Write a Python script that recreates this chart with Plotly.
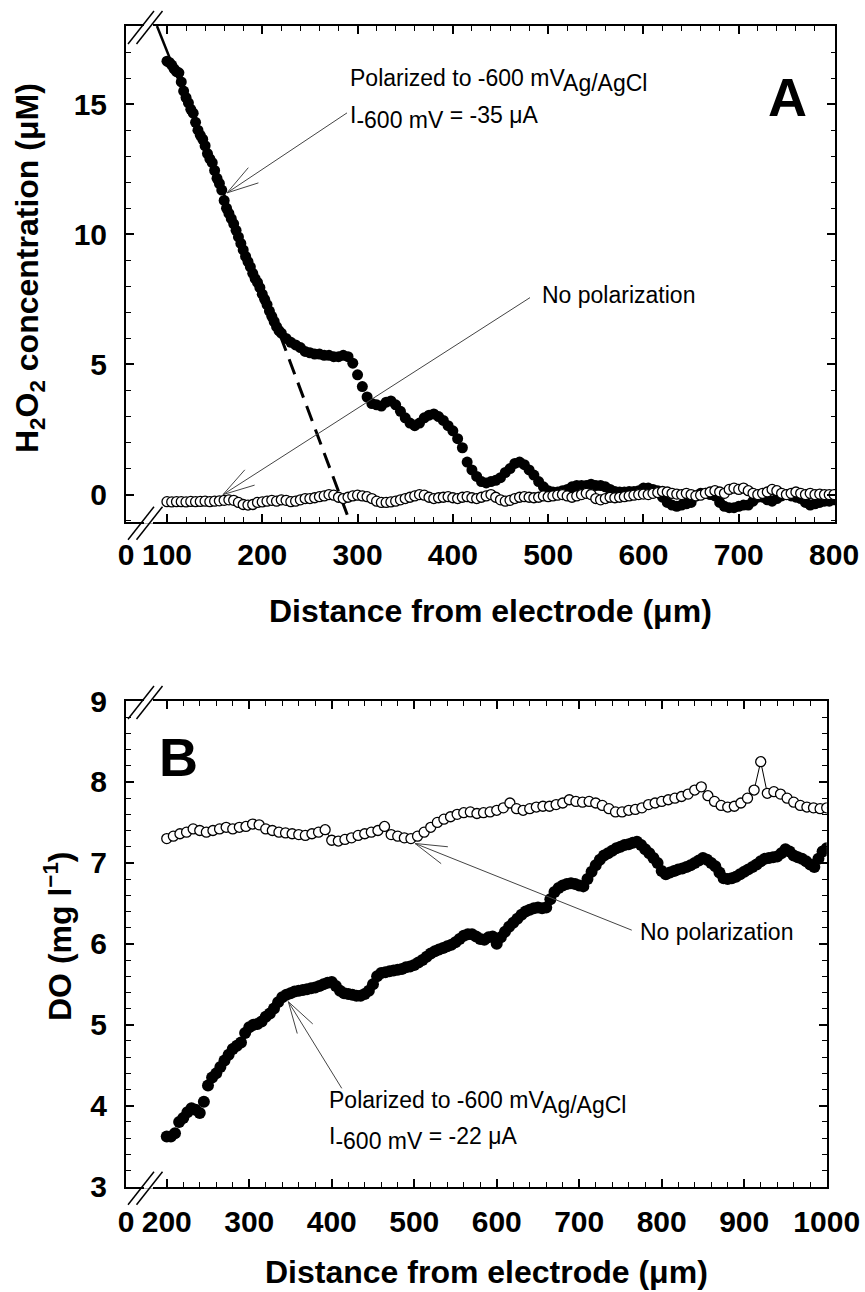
import math
import plotly.graph_objects as go

FONT = "Liberation Sans, Arial, sans-serif"
W, H = 865, 1292
ANN = 23          # annotation text size
BOLD = 30         # tick labels
TITLE = 32        # axis titles
ARROW_COLOR = "#444444"

# ---- panel A : H2O2 profile ----
# steep part, every 2.5 um from 100 um
a_steep_x0, a_steep_dx = 100, 2.5
a_steep = [
    16.65, 16.6, 16.5, 16.35, 16.25, 16.2, 15.85, 15.5, 15.25, 15.05,
    14.8, 14.65, 14.3, 14.0, 13.8, 13.65, 13.4, 13.1, 12.9, 12.75,
    12.45, 12.15, 11.95, 11.7, 11.3, 11.0, 10.8, 10.6, 10.4, 10.15,
    9.9, 9.65, 9.4, 9.15, 8.95, 8.75, 8.5, 8.3, 8.15, 7.95,
    7.7, 7.5, 7.3, 7.05, 6.85, 6.65, 6.45, 6.3, 6.2,
]
# rest of the polarized profile, every 5 um from 225 um
a_tail_x0, a_tail_dx = 225, 5
a_tail = [
    6.0, 5.85, 5.75, 5.65, 5.5,
    5.45, 5.4, 5.4, 5.35, 5.35, 5.3, 5.3, 5.35, 5.3, 5.05,
    4.6, 4.15, 3.75, 3.5, 3.45, 3.4, 3.55, 3.6, 3.45, 3.2,
    2.95, 2.75, 2.65, 2.75, 2.95, 3.05, 3.1, 3.0, 2.85, 2.65,
    2.45, 2.15, 1.8, 1.25, 0.95, 0.7, 0.5, 0.45, 0.5, 0.55,
    0.65, 0.85, 1.0, 1.2, 1.25, 1.15, 0.95, 0.75, 0.5, 0.3,
    0.15, 0.1, 0.1, 0.15, 0.2, 0.3, 0.35, 0.35, 0.35, 0.4,
    0.35, 0.35, 0.3, 0.2, 0.12, 0.1, 0.1, 0.12, 0.12, 0.15,
    0.25, 0.25, 0.2, 0.15, -0.1, -0.3, -0.4, -0.45, -0.4, -0.35,
    -0.3, -0.05, 0.05, 0.05, 0.0, -0.05, -0.3, -0.45, -0.5, -0.5,
    -0.45, -0.4, -0.4, -0.25, -0.1, -0.1, -0.2, -0.25, -0.15, -0.05,
    0.0, -0.05, -0.1, -0.15, -0.3, -0.4, -0.35, -0.3, -0.25, -0.25,
    -0.2,
]
# no polarization, every 5 um from 100 um
a_nopol_x0, a_nopol_dx = 100, 5
a_nopol = [
    -0.27, -0.28, -0.27, -0.27, -0.28, -0.26, -0.27, -0.26, -0.25, -0.27,
    -0.25, -0.24, -0.22, -0.2, -0.22, -0.3, -0.38, -0.4, -0.38, -0.3,
    -0.28, -0.25, -0.22, -0.25, -0.2, -0.22, -0.27, -0.25, -0.2, -0.15,
    -0.15, -0.12, -0.08, -0.05, 0.0, -0.02, -0.1, -0.15, -0.1, -0.05,
    -0.02, -0.05, -0.08, -0.15, -0.25, -0.3, -0.3, -0.28, -0.25, -0.2,
    -0.15, -0.1, -0.05, 0.0, -0.02, -0.1, -0.15, -0.12, -0.1, -0.08,
    -0.12, -0.15, -0.1, -0.08, -0.12, -0.15, -0.1, -0.05, 0.0, -0.1,
    -0.2, -0.25, -0.22, -0.15, -0.1, -0.08, -0.1, -0.12, -0.1, -0.05,
    -0.08, -0.05, -0.02, 0.0, -0.05, -0.1, -0.05, 0.0, 0.05, 0.0,
    -0.15, -0.2, -0.15, -0.1, -0.12, -0.1, -0.08, -0.05, -0.02, 0.0,
    0.02, 0.0, 0.05, 0.08, 0.12, 0.1, 0.05, 0.02, 0.0, 0.05,
    0.0, -0.05, -0.02, 0.05, 0.1, 0.15, 0.1, 0.05, 0.2, 0.25,
    0.2, 0.25, 0.15, 0.05, 0.0, 0.05, 0.1, 0.2, 0.15, 0.05,
    0.0, 0.05, 0.1, 0.05, 0.0, 0.05, 0.0, 0.02, 0.0, 0.0,
    0.0,
]
# linear fit of the steep part, solid then extrapolated (dashed)
a_fit_x = [89.5, 219]
a_fit_y = [18.0, 6.1]
a_ext_x = [219, 292]
a_ext_y = [6.1, -1.05]

# ---- panel B : dissolved oxygen ----
# polarized, every 5 um from 200 um
b_pol_x0, b_pol_dx = 200, 5
b_polarized = [
    3.62, 3.62, 3.66, 3.80, 3.85, 3.92, 3.97, 3.95, 3.91, 4.05,
    4.25, 4.35, 4.40, 4.48, 4.56, 4.63, 4.70, 4.74, 4.78, 4.90,
    4.97, 5.00, 5.01, 5.04, 5.10, 5.14, 5.20, 5.28, 5.34, 5.37,
    5.39, 5.41, 5.42, 5.43, 5.44, 5.45, 5.46, 5.48, 5.50, 5.52,
    5.53, 5.48, 5.42, 5.39, 5.38, 5.37, 5.36, 5.36, 5.38, 5.42,
    5.50, 5.60, 5.64, 5.65, 5.66, 5.67, 5.68, 5.69, 5.71, 5.72,
    5.74, 5.77, 5.80, 5.84, 5.88, 5.91, 5.93, 5.95, 5.97, 5.99,
    6.02, 6.06, 6.10, 6.12, 6.12, 6.09, 6.06, 6.05, 6.08, 6.09,
    6.00, 6.08, 6.15, 6.21, 6.26, 6.31, 6.36, 6.40, 6.42, 6.44,
    6.45, 6.44, 6.45, 6.55, 6.64, 6.69, 6.72, 6.74, 6.75, 6.74,
    6.72, 6.71, 6.80, 6.89, 6.97, 7.04, 7.09, 7.12, 7.15, 7.18,
    7.20, 7.22, 7.23, 7.25, 7.26, 7.22, 7.17, 7.12, 7.06, 7.00,
    6.90, 6.86, 6.88, 6.90, 6.92, 6.93, 6.95, 6.97, 7.00, 7.03,
    7.06, 7.04, 7.00, 6.96, 6.88, 6.81, 6.80, 6.81, 6.83, 6.86,
    6.89, 6.92, 6.95, 6.98, 7.02, 7.05, 7.06, 7.07, 7.08, 7.12,
    7.17, 7.14, 7.09, 7.07, 7.05, 7.02, 6.98, 6.95, 7.05, 7.14,
    7.18,
]
# no polarization, every 8 um from 200 um
b_nopol_x0, b_nopol_dx = 200, 8
b_nopol = [
    7.30, 7.33, 7.36, 7.38, 7.42, 7.40, 7.38, 7.40, 7.42, 7.44,
    7.42, 7.44, 7.45, 7.48, 7.47, 7.42, 7.40, 7.38, 7.37, 7.36,
    7.35, 7.34, 7.36, 7.38, 7.41, 7.28, 7.27, 7.29, 7.31, 7.34,
    7.36, 7.38, 7.40, 7.45, 7.35, 7.33, 7.31, 7.30, 7.33, 7.38,
    7.44, 7.50, 7.54, 7.57, 7.60, 7.62, 7.63, 7.61, 7.62, 7.63,
    7.65, 7.68, 7.74, 7.67, 7.65, 7.67, 7.69, 7.70, 7.70, 7.72,
    7.74, 7.78, 7.76, 7.75, 7.76, 7.74, 7.71, 7.67, 7.63, 7.63,
    7.65, 7.66, 7.68, 7.72, 7.74, 7.76, 7.78, 7.80, 7.82, 7.85,
    7.90, 7.94, 7.83, 7.76, 7.71, 7.69, 7.70, 7.74, 7.80, 7.90,
    8.25, 7.86, 7.88, 7.85, 7.80, 7.75, 7.71, 7.69, 7.68, 7.67,
    7.68,
]

# ticks (broken axes: "0" sits on the left frame edge)
a_xticks = [57, 100, 200, 300, 400, 500, 600, 700, 800]
a_xlabels = ["0", "100", "200", "300", "400", "500", "600", "700", "800"]
b_xticks = [150.6, 200, 300, 400, 500, 600, 700, 800, 900, 1000]
b_xlabels = ["0", "200", "300", "400", "500", "600", "700", "800", "900", "1000"]


def px(x):
    return x / W


def py(y):
    return 1 - y / H


fig = go.Figure()

filled_a = dict(size=11, color="black")
open_mk = dict(size=10, color="white", line=dict(color="black", width=1.3))

fig.add_trace(go.Scatter(x=a_fit_x, y=a_fit_y, mode="lines",
                         line=dict(color="black", width=2.5), xaxis="x", yaxis="y"))
fig.add_trace(go.Scatter(x=a_ext_x, y=a_ext_y, mode="lines",
                         line=dict(color="black", width=3, dash="16px,9px"), xaxis="x", yaxis="y"))
fig.add_trace(go.Scatter(x0=a_steep_x0, dx=a_steep_dx, y=a_steep, mode="markers",
                         marker=filled_a, xaxis="x", yaxis="y"))
fig.add_trace(go.Scatter(x0=a_tail_x0, dx=a_tail_dx, y=a_tail, mode="markers",
                         marker=filled_a, xaxis="x", yaxis="y"))
fig.add_trace(go.Scatter(x0=a_nopol_x0, dx=a_nopol_dx, y=a_nopol, mode="lines+markers",
                         line=dict(color="black", width=1), marker=open_mk,
                         xaxis="x", yaxis="y"))

fig.add_trace(go.Scatter(x0=b_pol_x0, dx=b_pol_dx, y=b_polarized, mode="markers",
                         marker=dict(size=12, color="black"), xaxis="x2", yaxis="y2"))
fig.add_trace(go.Scatter(x0=b_nopol_x0, dx=b_nopol_dx, y=b_nopol, mode="lines+markers",
                         line=dict(color="black", width=1), marker=open_mk,
                         xaxis="x2", yaxis="y2"))

tickfont = dict(family=FONT, size=BOLD, color="black", weight="bold")
common = dict(showline=True, linecolor="black", linewidth=2, mirror="ticks",
              ticks="inside", ticklen=8, tickwidth=1.5, tickcolor="black",
              showgrid=False, zeroline=False, automargin=False, tickfont=tickfont)
minor = dict(ticks="inside", ticklen=4.5, tickwidth=1.2, tickcolor="black")

fig.update_layout(
    template="none",
    xaxis=dict(common, domain=[px(126), px(835)], anchor="y", range=[57, 801],
               tickmode="array", tickvals=a_xticks, ticktext=a_xlabels, ticklabelstandoff=5,
               minor=dict(minor, tickmode="array", tickvals=list(range(120, 801, 20)))),
    yaxis=dict(common, domain=[py(521.7), py(26)], anchor="x", range=[-1.04, 18.0],
               dtick=5, tick0=0, ticklabelstandoff=11,
               minor=dict(minor, dtick=1, tick0=0)),
    xaxis2=dict(common, domain=[px(126), px(826.7)], anchor="y2", range=[150.6, 1000],
                tickmode="array", tickvals=b_xticks, ticktext=b_xlabels, ticklabelstandoff=7,
                minor=dict(minor, tickmode="array", tickvals=list(range(220, 1001, 20)))),
    yaxis2=dict(common, domain=[py(1186.7), py(701)], anchor="x2", range=[3, 9],
                dtick=1, tick0=3, ticklabelstandoff=11,
                minor=dict(minor, dtick=0.2, tick0=3)),
    width=W, height=H, margin=dict(l=0, r=0, t=0, b=0, pad=0),
    plot_bgcolor="white", paper_bgcolor="white", showlegend=False,
    font=dict(family=FONT, color="black"),
)


def label(x, y, text, size=ANN, bold=False, xanchor="left", angle=0):
    fig.add_annotation(x=px(x), y=py(y), xref="paper", yref="paper", text=text,
                       showarrow=False, xanchor=xanchor, yanchor="middle", textangle=angle,
                       font=dict(family=FONT, size=size, color="black",
                                 weight="bold" if bold else "normal"))


def arrow(x, y, ax, ay, xref, yref, barb=33, spread=16):
    # open arrow drawn as a pixel-sized path anchored at the tip (ax, ay: screen px, y down)
    ang = math.atan2(ay, ax)
    pts = []
    for s in (-1, 1):
        a = ang + s * math.radians(spread)
        pts.append((barb * math.cos(a), -barb * math.sin(a)))
    path = (f"M{ax:.1f},{-ay:.1f} L0,0 "
            f"M{pts[0][0]:.1f},{pts[0][1]:.1f} L0,0 L{pts[1][0]:.1f},{pts[1][1]:.1f}")
    fig.add_shape(type="path", xref=xref, yref=yref, xsizemode="pixel", ysizemode="pixel",
                  xanchor=x, yanchor=y, path=path, line=dict(color=ARROW_COLOR, width=1))


def sub(t):
    return f'<sub><span style="font-size:{ANN}px">{t}</span></sub>'


# panel A texts
label(348, 80, "Polarized to -600 mV" + sub("Ag/AgCl"))
label(348, 117, "I" + sub("-600 mV") + " = -35 μA")
label(540, 295, "No polarization")
label(787, 97, "A", size=54, bold=True, xanchor="center")
arrow(163.0, 11.59, 120, -80, "x", "y")
arrow(158.8, 0.0, 307, -197, "x", "y")

# panel B texts
label(178, 757, "B", size=54, bold=True, xanchor="center")
label(638, 932, "No polarization")
label(327, 1102, "Polarized to -600 mV" + sub("Ag/AgCl"))
label(327, 1138, "I" + sub("-600 mV") + " = -22 μA")
arrow(501, 7.24, 216.7, 86.7, "x2", "y2")
arrow(347.4, 5.285, 53.4, 86.6, "x2", "y2")

# axis titles
label(490, 611, "Distance from electrode (μm)", size=TITLE, bold=True, xanchor="center")
label(486, 1272, "Distance from electrode (μm)", size=TITLE, bold=True, xanchor="center")
label(30, 268, "H<sub>2</sub>O<sub>2</sub> concentration (μM)", size=TITLE, bold=True,
      xanchor="center", angle=-90)
label(58, 936, "DO (mg l<sup>−1</sup>)", size=TITLE, bold=True, xanchor="center", angle=-90)

# axis break marks on the left corners
for yb in (26, 521.7, 701, 1186.7):
    fig.add_shape(type="line", xref="paper", yref="paper",
                  x0=px(144), y0=py(yb), x1=px(153), y1=py(yb),
                  line=dict(color="white", width=4))
    for dx in (0, 8.5):
        fig.add_shape(type="line", xref="paper", yref="paper",
                      x0=px(128 + dx), y0=py(yb + 18), x1=px(154 + dx), y1=py(yb - 15),
                      line=dict(color="black", width=1.5))

# the page's default body margin would shift the 865x1292 figure
fig.write_html("out.html", config={"displayModeBar": False},
               post_script="document.body.style.margin = '0';")
